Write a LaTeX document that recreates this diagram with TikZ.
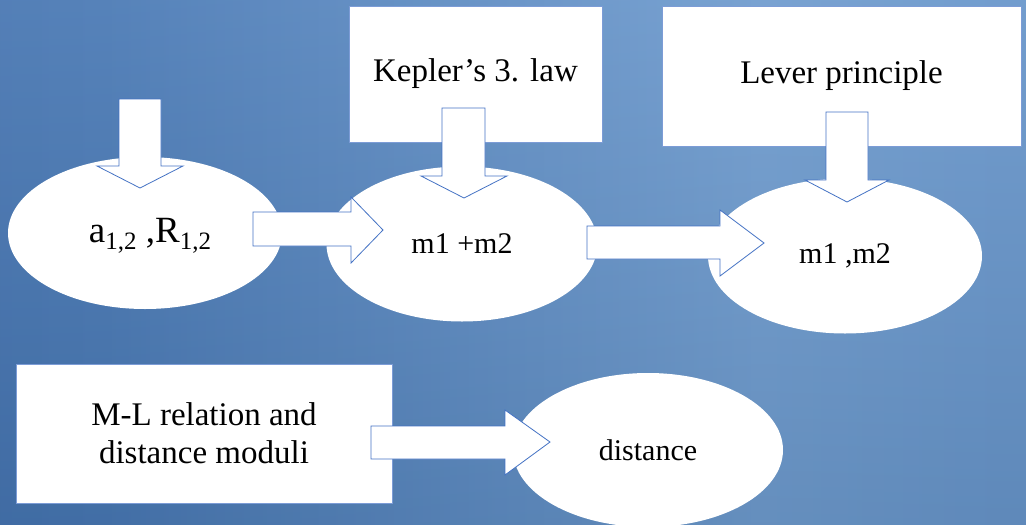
\documentclass[tikz,border=0pt]{standalone}
\usepackage{fontspec}
\setmainfont{Liberation Serif}
\usetikzlibrary{shapes.geometric}
\definecolor{bgL}{RGB}{57,103,165}
\definecolor{bgA}{RGB}{72,120,180}
\definecolor{bgM}{RGB}{110,155,206}
\definecolor{bgR}{RGB}{88,136,194}
\definecolor{edgeblue}{RGB}{68,114,196}
\pgfdeclarehorizontalshading{bgshade}{100bp}{color(0bp)=(bgL); color(30bp)=(bgA); color(62bp)=(bgM); color(100bp)=(bgR)}
\newcommand{\lowsub}[1]{{\fontsize{25}{25}\selectfont\raisebox{-7pt}{#1}}}
\tikzset{
  oval/.style={ellipse, fill=white, draw=none, inner sep=0pt, font=\fontsize{30}{34}\selectfont},
  whitebox/.style={rectangle, fill=white, draw=edgeblue!70, line width=0.6pt, inner sep=0pt, align=center, font=\fontsize{33}{38}\selectfont},
  blockarrow/.style={fill=white, draw=edgeblue, line width=0.8pt, line join=miter}
}
\begin{document}
\begin{tikzpicture}[x=1pt,y=-1pt]
\useasboundingbox (0,0) rectangle (1026,525);
% background
\shade[shading=bgshade] (0,0) rectangle (1026,525);
\shade[top color=white, bottom color=black, opacity=0.08] (0,0) rectangle (1026,525);

% boxes
\node[whitebox, minimum width=253pt, minimum height=136pt] (kepler) at (475.5,74) {Kepler’s 3. law};
\node[whitebox, minimum width=359pt, minimum height=140pt] (lever) at (841.5,76) {Lever principle};
\node[whitebox, minimum width=376pt, minimum height=139pt] (ml) at (204,433.5) {M-L relation and\\ distance moduli};

% ellipses
\node[oval, minimum width=274pt, minimum height=152pt] (e1) at (145,233) {};
\node[font=\fontsize{37}{40}\selectfont, inner sep=0pt] (t1) at (150,236) {a\lowsub{1,2} ,R\lowsub{1,2}};
\node[oval, minimum width=271pt, minimum height=155pt] (e2) at (462,244) {\raisebox{-3pt}{m1 +m2}};
\node[oval, minimum width=274pt, minimum height=155pt] (e3) at (845,256) {\raisebox{-2pt}{m1 ,m2}};
\node[oval, minimum width=270pt, minimum height=154pt] (e4) at (648,450) {distance};

% block arrows
\draw[blockarrow] (119,99)--(161,99)--(161,166)--(183,166)--(140,188)--(97,166)--(119,166)--cycle;
\draw[blockarrow] (442,108)--(485,108)--(485,176)--(507,176)--(464,198)--(421,176)--(442,176)--cycle;
\draw[blockarrow] (826,112)--(868,112)--(868,180)--(889,180)--(847,202)--(805,180)--(826,180)--cycle;
\draw[blockarrow] (253,212)--(351,212)--(351,197)--(383,230)--(351,263)--(351,246)--(253,246)--cycle;
\draw[blockarrow] (587,226)--(720,226)--(720,210)--(764,243)--(720,276)--(720,259)--(587,259)--cycle;
\draw[blockarrow] (371,426)--(505,426)--(505,410)--(550,442)--(505,475)--(505,459)--(371,459)--cycle;
\end{tikzpicture}
\end{document}
